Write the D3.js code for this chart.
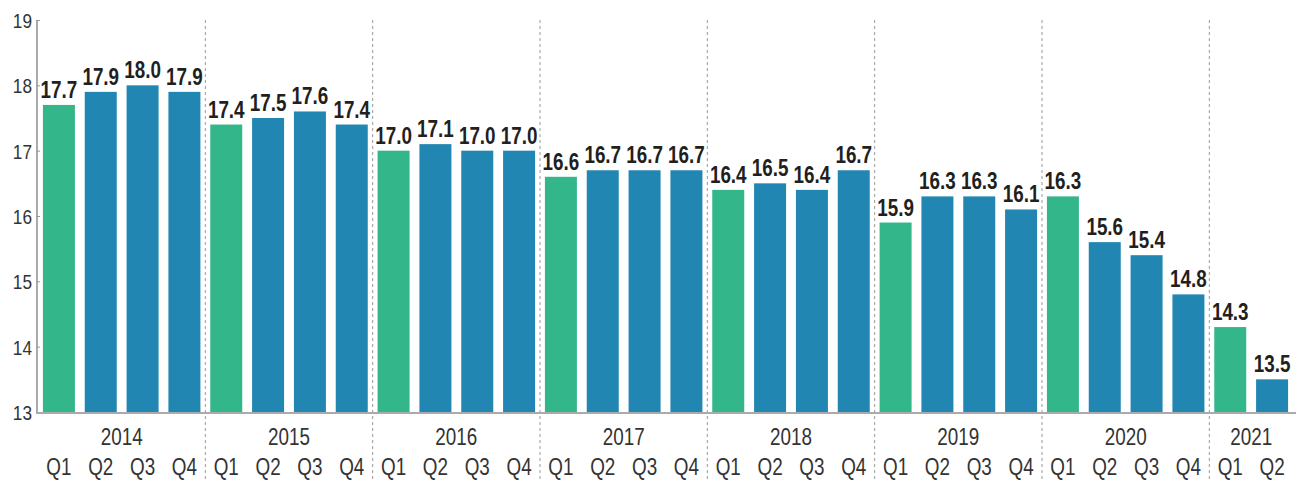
<!DOCTYPE html>
<html><head><meta charset="utf-8">
<script src="https://cdn.jsdelivr.net/npm/d3@7"></script>
<style>
html,body{margin:0;padding:0;background:#fff;}
svg{display:block;}
text{font-family:"Liberation Sans",sans-serif;}
</style></head>
<body>
<svg id="chart" width="1296" height="480"></svg>
<script>
const years = ["2014","2015","2016","2017","2018","2019","2020","2021"];
const quarters = ["Q1","Q2","Q3","Q4"];
const periods = [
 "2014 Q1","2014 Q2","2014 Q3","2014 Q4",
 "2015 Q1","2015 Q2","2015 Q3","2015 Q4",
 "2016 Q1","2016 Q2","2016 Q3","2016 Q4",
 "2017 Q1","2017 Q2","2017 Q3","2017 Q4",
 "2018 Q1","2018 Q2","2018 Q3","2018 Q4",
 "2019 Q1","2019 Q2","2019 Q3","2019 Q4",
 "2020 Q1","2020 Q2","2020 Q3","2020 Q4",
 "2021 Q1","2021 Q2"];
const values = [17.7,17.9,18.0,17.9, 17.4,17.5,17.6,17.4, 17.0,17.1,17.0,17.0,
 16.6,16.7,16.7,16.7, 16.4,16.5,16.4,16.7, 15.9,16.3,16.3,16.1,
 16.3,15.6,15.4,14.8, 14.3,13.5];
const yTicks = [13,14,15,16,17,18,19];

const green = "#33b68a", blue = "#2286b2";
const SX = 0.82; // narrow font emulation
const svg = d3.select("#chart");
const x = d3.scaleBand().domain(periods).range([38,1293]).paddingInner(0.235).paddingOuter(0.1175);
const y = d3.scaleLinear().domain([13,19]).range([412,20]);
const step = x.step();

// separators
const sepIdx = d3.range(4, periods.length, 4);
svg.selectAll("line.sep").data(sepIdx).join("line")
  .attr("x1", i => x(periods[i]) - (step - x.bandwidth())/2)
  .attr("x2", i => x(periods[i]) - (step - x.bandwidth())/2)
  .attr("y1", 20).attr("y2", 480)
  .attr("stroke","#999").attr("stroke-width",1).attr("stroke-dasharray","3,3");

// bars
svg.selectAll("rect.bar").data(periods).join("rect")
  .attr("x", p => x(p)).attr("width", x.bandwidth())
  .attr("y", (p,i) => y(values[i])).attr("height", (p,i) => y(13) - y(values[i]))
  .attr("fill", p => p.endsWith("Q1") ? green : blue);

// value labels
svg.selectAll("text.val").data(periods).join("text")
  .attr("transform", (p,i) => `translate(${x(p) + x.bandwidth()/2},${y(values[i]) - 7}) scale(${SX},1)`)
  .attr("text-anchor","middle").attr("font-weight","bold").attr("font-size",23)
  .attr("fill","#231f20")
  .text((p,i) => values[i].toFixed(1));

// y axis
const yAxis = d3.axisRight(y).tickValues(yTicks).tickSize(4).tickFormat(d3.format("d"));
const ga = svg.append("g").attr("transform","translate(36,0)").call(yAxis);
ga.select(".domain").attr("stroke","#aaa").attr("stroke-width",2).attr("d","M1,20V413");
ga.selectAll(".tick line").attr("stroke","#999");
ga.selectAll(".tick text").attr("x",0).attr("transform",`translate(-4,0) scale(${SX},1)`)
  .attr("text-anchor","end").attr("font-size",21)
  .attr("fill","#333").attr("font-family","Liberation Sans").attr("dy","0.35em");

// baseline
svg.append("line").attr("x1",36).attr("x2",1296).attr("y1",413).attr("y2",413)
  .attr("stroke","#aaa").attr("stroke-width",2);

// quarter labels
const xAxis = d3.axisBottom(x).tickSize(0).tickFormat(p => p.split(" ")[1]);
const gx = svg.append("g").attr("transform","translate(0,413)").call(xAxis);
gx.select(".domain").remove();
gx.selectAll(".tick text").attr("y",0).attr("dy",0)
  .attr("transform",`translate(0,62) scale(${SX},1)`).attr("font-size",23)
  .attr("fill","#333").attr("font-family","Liberation Sans");

// year labels
svg.selectAll("text.year").data(years).join("text")
  .attr("transform", yr => {
    const ps = periods.filter(p => p.startsWith(yr));
    const cx = (x(ps[0]) + x(ps[ps.length-1]) + x.bandwidth())/2;
    return `translate(${cx},445) scale(${SX},1)`;
  })
  .attr("text-anchor","middle").attr("font-size",23).attr("fill","#333")
  .text(d => d);
</script>
</body></html>
